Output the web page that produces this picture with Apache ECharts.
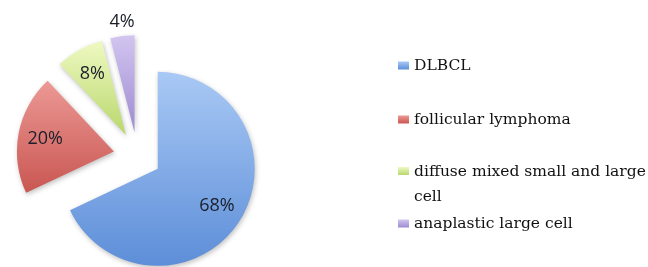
<!DOCTYPE html>
<html>
<head>
<meta charset="utf-8">
<script src="https://cdn.jsdelivr.net/npm/echarts@6/dist/echarts.min.js"></script>
<style>
html,body{margin:0;padding:0;background:#fff;}
#c{width:648px;height:267px;}
</style>
</head>
<body>
<div id="c"></div>
<script>
// ---- data ----
var categories = ['DLBCL', 'follicular lymphoma', 'diffuse mixed small and large cell', 'anaplastic large cell'];
var values = [68, 20, 8, 4];
var labels = ['68%', '20%', '8%', '4%'];

// ---- styles ----
var gradTop = ['#a9c9f5', '#ec9995', '#eef9c2', '#d2c5f0'];
var gradBottom = ['#5d8ed8', '#c95651', '#b9d76c', '#9e8ad1'];
var legendTops = [53, 107, 159, 211];

function grad(i) {
  return new echarts.graphic.LinearGradient(0, 0, 0, 1, [
    { offset: 0, color: gradTop[i] },
    { offset: 1, color: gradBottom[i] }
  ]);
}

var pieData = categories.map(function (c, i) {
  return {
    name: c, value: values[i], selected: true,
    itemStyle: { color: grad(i) }
  };
});

var labelData = categories.map(function (c, i) {
  var item = { name: c, value: values[i], selected: true };
  if (i === 3) {
    item.label = { position: 'outside', distanceToLabelLine: -14 };
    item.labelLine = { show: false, length: 14, length2: 0 };
  }
  return item;
});

var legends = categories.map(function (c, i) {
  var twoLine = (i === 2);
  var lg = {
    show: true,
    orient: 'vertical',
    left: 398,
    top: legendTops[i],
    padding: 0,
    itemGap: 0,
    itemWidth: 11,
    itemHeight: twoLine ? 34 : 8,
    icon: twoLine ? 'path://M0,0L11,0L11,8L0,8Z M0,34L0.001,34Z' : 'rect',
    selectedMode: false,
    data: [twoLine ? {
      name: c,
      itemStyle: { color: new echarts.graphic.LinearGradient(0, 0, 0, 0.24, [
        { offset: 0, color: gradTop[i] }, { offset: 1, color: gradBottom[i] }
      ]) }
    } : c],
    textStyle: {
      fontFamily: 'DejaVu Serif',
      fontSize: 15.5,
      color: '#111111',
      lineHeight: 25,
      width: 238,
      overflow: 'break'
    }
  };
  return lg;
});

var chart = echarts.init(document.getElementById('c'), null, { renderer: 'canvas' });
chart.setOption({
  animation: false,
  backgroundColor: '#ffffff',
  legend: legends,
  series: [
    {
      type: 'pie',
      center: [137.5, 156],
      radius: 97,
      startAngle: 90,
      clockwise: true,
      selectedMode: 'multiple',
      selectedOffset: 24,
      silent: true,
      label: { show: false },
      labelLine: { show: false },
      emphasis: { disabled: true },
      itemStyle: {
        shadowBlur: 5,
        shadowColor: 'rgba(0,0,0,0.25)',
        shadowOffsetX: 1,
        shadowOffsetY: 2
      },
      data: pieData
    },
    {
      type: 'pie',
      center: [137.5, 156],
      radius: [37, 97],
      startAngle: 90,
      clockwise: true,
      selectedMode: 'multiple',
      selectedOffset: 24,
      silent: true,
      avoidLabelOverlap: false,
      itemStyle: { color: 'rgba(0,0,0,0)' },
      emphasis: { disabled: true },
      labelLine: { show: false },
      label: {
        show: true,
        position: 'inside',
        fontFamily: 'Open Sans',
        fontSize: 18,
        color: '#1b1f2a',
        formatter: function (p) { return labels[p.dataIndex]; }
      },
      data: labelData
    }
  ]
});
</script>
</body>
</html>
